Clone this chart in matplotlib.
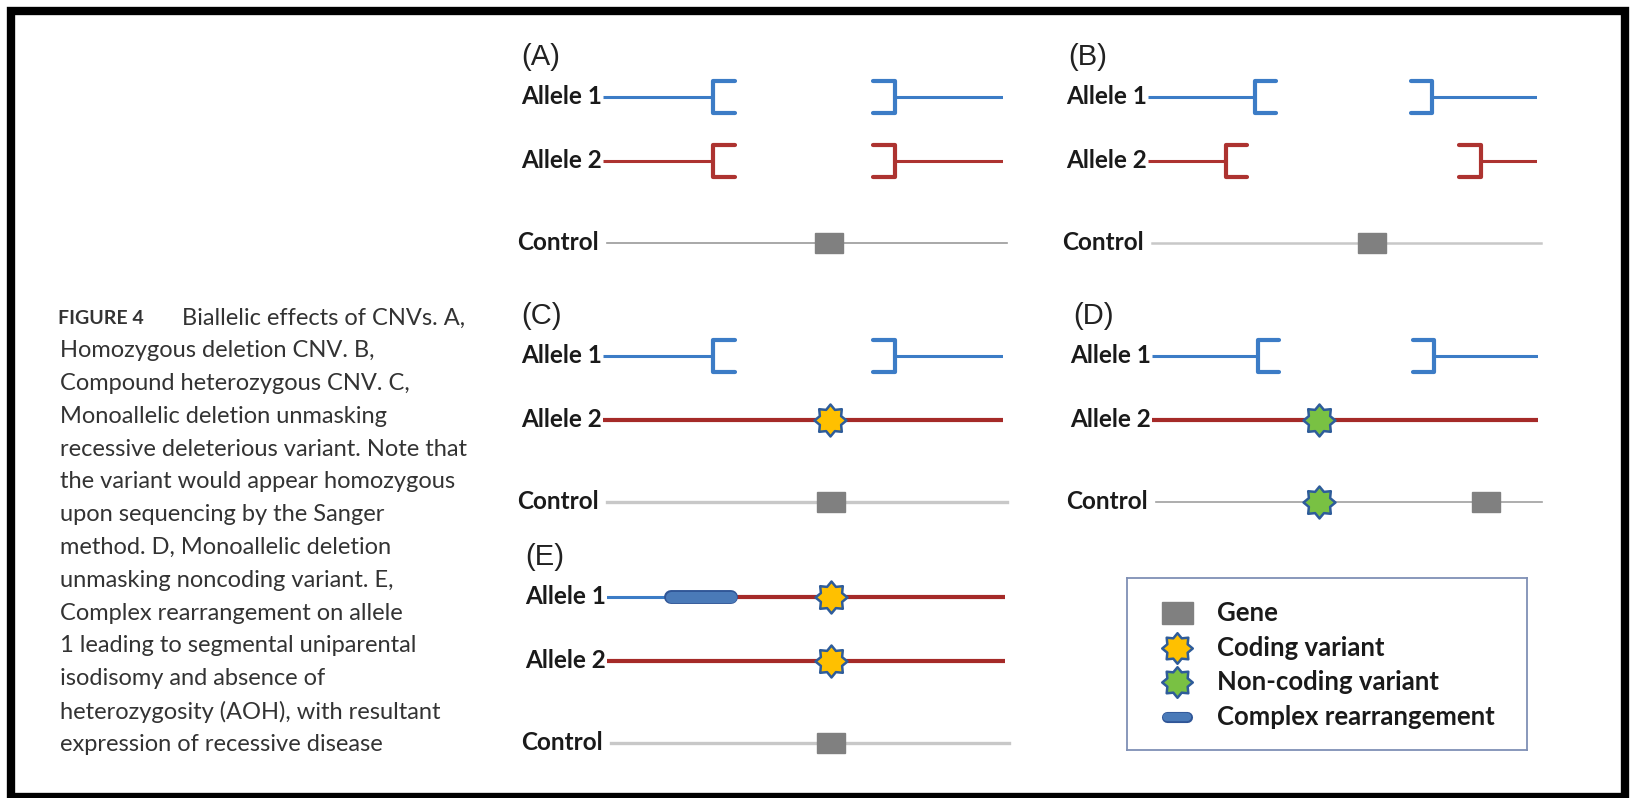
import numpy as np
import matplotlib
matplotlib.use("Agg")
import matplotlib.pyplot as plt
from matplotlib.path import Path
from matplotlib.patches import Rectangle

# ---- data (positions along each segment, 0-100) ----
panel_names = ["(A)", "(B)", "(C)", "(D)", "(E)"]
row_labels = ["Allele 1", "Allele 2", "Control"]
row_y = [0, 1, 2.28]

allele1_del = [(27.5, 73), (27.5, 73), (27.5, 73), (27.5, 73), None]
allele2_del = [(27.5, 73), (20, 85.5), None, None, None]
gene_pos = [56.5, 57.5, 57, 86.5, 56.3]
coding_pos = [None, None, 56.8, None, 56.3]
coding_rows = [[], [], [1], [], [0, 1]]
noncoding_pos = [None, None, None, 43.3, None]
noncoding_rows = [[], [], [], [1, 2], []]
rearr_span = [None, None, None, None, (14.6, 32.7)]

legend_labels = ["Gene", "Coding variant", "Non-coding variant", "Complex rearrangement"]

caption_head = "FIGURE 4"
caption_lines = [
    "Biallelic effects of CNVs. A,",
    "Homozygous deletion CNV. B,",
    "Compound heterozygous CNV. C,",
    "Monoallelic deletion unmasking",
    "recessive deleterious variant. Note that",
    "the variant would appear homozygous",
    "upon sequencing by the Sanger",
    "method. D, Monoallelic deletion",
    "unmasking noncoding variant. E,",
    "Complex rearrangement on allele",
    "1 leading to segmental uniparental",
    "isodisomy and absence of",
    "heterozygosity (AOH), with resultant",
    "expression of recessive disease",
]

# ---- layout (pixels) ----
W, H = 1633, 798
panel_x0 = [603, 1148, 603, 1152, 607]
panel_x1 = [1003, 1537, 1003, 1538, 1005]
panel_ytop = [97, 97, 356, 356, 597]
UNIT = 64  # px per row unit

BLUE = "#3c7cc6"
RED = "#ad3330"
DRED = "#a52a28"
GENE = "#808080"
YELLOW = "#ffc000"
GREEN = "#79c143"
STAR_EDGE = "#2e5c9a"
ctrl_color = ["#9a9a9a", "#c8c8c8", "#c8c8c8", "#a0a0a0", "#c8c8c8"]
ctrl_lw = [1.2, 1.8, 2.4, 1.2, 2.4]
red_lw = [2.2, 2.2, 3.0, 3.0, 3.0]

# 8-point star marker
n = 8
ang = np.pi / 2 + np.arange(2 * n) * np.pi / n
rad = np.where(np.arange(2 * n) % 2 == 0, 1.0, 0.72)
verts = np.column_stack([rad * np.cos(ang), rad * np.sin(ang)])
verts = np.vstack([verts, verts[0]])
STAR = Path(verts, [Path.MOVETO] + [Path.LINETO] * (2 * n - 1) + [Path.CLOSEPOLY])

fig = plt.figure(figsize=(W / 100, H / 100), dpi=100)
fig.patch.set_facecolor("white")


def bracket(ax, x, y, side, color):
    arm = 5.5 * side
    h = 0.25
    ax.plot([x + arm, x, x, x + arm], [y - h, y - h, y + h, y + h], color=color,
            lw=3.0, solid_joinstyle="round", solid_capstyle="round", zorder=3)


def allele(ax, y, dele, color, lw):
    if dele is None:
        ax.plot([0, 100], [y, y], color=color, lw=lw, solid_capstyle="butt", zorder=2)
        return
    ax.plot([0, dele[0]], [y, y], color=color, lw=lw, solid_capstyle="butt", zorder=2)
    ax.plot([dele[1], 100], [y, y], color=color, lw=lw, solid_capstyle="butt", zorder=2)
    bracket(ax, dele[0], y, 1, color)
    bracket(ax, dele[1], y, -1, color)


for i, name in enumerate(panel_names):
    x0, x1, yt = panel_x0[i], panel_x1[i], panel_ytop[i]
    top = yt - 1.0 * UNIT
    height = 3.6 * UNIT
    ax = fig.add_axes([x0 / W, 1 - (top + height) / H, (x1 - x0) / W, height / H])
    ax.set_xlim(0, 100)
    ax.set_ylim(2.6, -1.0)
    ax.axis("off")

    # allele 1
    if rearr_span[i] is not None:
        r0, r1 = rearr_span[i]
        ax.plot([0, r0], [row_y[0]] * 2, color=BLUE, lw=2.2, zorder=2)
        ax.plot([r1, 100], [row_y[0]] * 2, color=DRED, lw=red_lw[i], zorder=2)
        ax.plot([r0 + 1.6, r1 - 1.6], [row_y[0]] * 2, color="#2f5597", lw=10,
                solid_capstyle="round", zorder=3)
        ax.plot([r0 + 1.6, r1 - 1.6], [row_y[0]] * 2, color="#4a7ab8", lw=8,
                solid_capstyle="round", zorder=4)
    else:
        allele(ax, row_y[0], allele1_del[i], BLUE, 2.2)

    # allele 2
    allele(ax, row_y[1], allele2_del[i], DRED if red_lw[i] > 2.5 else RED, red_lw[i])

    # control
    ax.plot([1, 101], [row_y[2]] * 2, color=ctrl_color[i], lw=ctrl_lw[i], zorder=1,
            clip_on=False)
    ax.add_patch(Rectangle((gene_pos[i] - 3.6, row_y[2] - 0.16), 7.2, 0.32,
                           color=GENE, zorder=4))

    for r in coding_rows[i]:
        ax.plot(coding_pos[i], row_y[r], marker=STAR, ms=23, mfc=YELLOW,
                mec=STAR_EDGE, mew=1.8, ls="none", zorder=6)
    for r in noncoding_rows[i]:
        ax.plot(noncoding_pos[i], row_y[r], marker=STAR, ms=23, mfc=GREEN,
                mec=STAR_EDGE, mew=1.8, ls="none", zorder=6)

    for lab, y in zip(row_labels, row_y):
        off = -0.3 if lab != "Control" else -1.0
        ax.text(off, y, lab, ha="right", va="center", fontsize=17.5,
                fontweight="bold", family="Lato", color="#1a1a1a")
    ax.text(-20.5, -0.63, name, ha="left", va="center", fontsize=21,
            family="Liberation Sans", color="#222222")

# ---- legend box ----
lx0, ly0, lx1, ly1 = 1127, 578, 1527, 750
lax = fig.add_axes([lx0 / W, 1 - ly1 / H, (lx1 - lx0) / W, (ly1 - ly0) / H])
lax.set_xlim(0, lx1 - lx0)
lax.set_ylim(ly1 - ly0, 0)
lax.set_xticks([])
lax.set_yticks([])
for s in lax.spines.values():
    s.set_color("#7f90b5")
    s.set_linewidth(1.3)
leg_y = [35, 70, 104, 139]
lax.add_patch(Rectangle((35, leg_y[0] - 11), 31, 22, color=GENE))
lax.plot(50, leg_y[1], marker=STAR, ms=22, mfc=YELLOW, mec=STAR_EDGE, mew=1.8)
lax.plot(50, leg_y[2], marker=STAR, ms=22, mfc=GREEN, mec=STAR_EDGE, mew=1.8)
lax.plot([40, 60], [leg_y[3]] * 2, color="#2f5597", lw=8, solid_capstyle="round")
lax.plot([40, 60], [leg_y[3]] * 2, color="#4a7ab8", lw=6, solid_capstyle="round")
for lab, y in zip(legend_labels, leg_y):
    lax.text(90, y, lab, ha="left", va="center", fontsize=18.5, fontweight="bold",
             family="Lato", color="#1a1a1a")

# ---- caption ----
cap_y0, cap_dy = 318, 32.8
fig.text(58 / W, 1 - cap_y0 / H, caption_head, ha="left", va="center",
         fontsize=14, fontweight="bold", family="Lato", color="#333333")
for k, line in enumerate(caption_lines):
    x = 182 if k == 0 else 60
    fig.text(x / W, 1 - (cap_y0 + k * cap_dy) / H, line, ha="left", va="center",
             fontsize=17, family="Lato", color="#333333")

# ---- outer black frame ----
fig.add_artist(Rectangle((11 / W, 1 - 797 / H), (1625 - 11) / W, (797 - 10.5) / H,
                         transform=fig.transFigure, fill=False, ec="black", lw=6))

fig.savefig("out.png", dpi=100, facecolor="white")
